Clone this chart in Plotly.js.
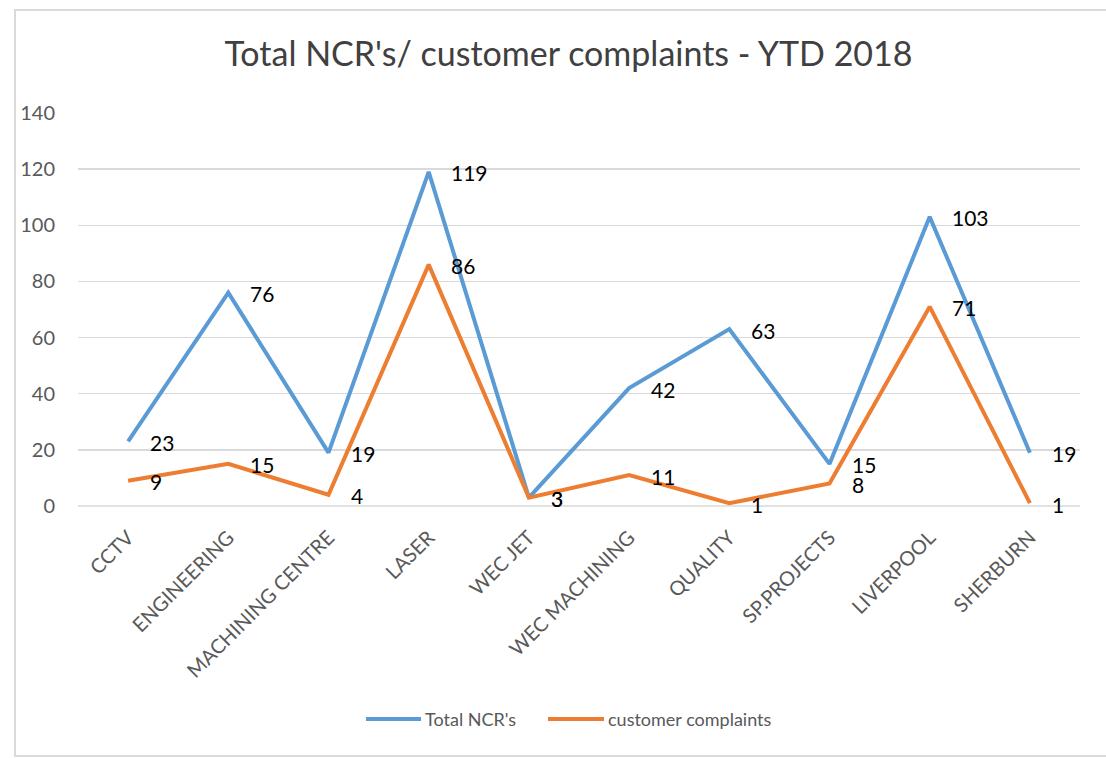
<!DOCTYPE html>
<html>
<head>
<meta charset="utf-8">
<script src="https://cdn.plot.ly/plotly-3.0.1.min.js"></script>
<style>
html,body{margin:0;padding:0;background:#fff;}
#chart{width:1106px;height:758px;}
</style>
</head>
<body>
<div id="chart"></div>
<script>
const categories = ["CCTV","ENGINEERING","MACHINING CENTRE","LASER","WEC JET","WEC MACHINING","QUALITY","SP.PROJECTS","LIVERPOOL","SHERBURN"];
const totalNCRs = [23, 76, 19, 119, 3, 42, 63, 15, 103, 19];
const customerComplaints = [9, 15, 4, 86, 3, 11, 1, 8, 71, 1];
const seriesNames = ["Total NCR's", "customer complaints"];
const seriesColors = ["#5B9BD5", "#ED7D31"];
const yTicks = [0, 20, 40, 60, 80, 100, 120, 140];

const FONT = "Lato, Carlito, 'Open Sans', sans-serif";

// plot area in pixels (for paper-coordinate conversion of decorations)
const PL = 78, PR = 1080, PT = 113, PB = 506;
const px = v => (v - PL) / (PR - PL);
const py = v => (PB - v) / (PB - PT);

function series(name, values, color) {
  return {
    type: "scatter",
    mode: "lines",
    name: name,
    x: categories,
    y: values,
    line: {color: color, width: 4},
    cliponaxis: false,
    showlegend: false
  };
}

function labels(values) {
  return values.map((v, i) => ({
    x: categories[i],
    y: v,
    xref: "x",
    yref: "y",
    text: String(v),
    showarrow: false,
    xanchor: "left",
    yanchor: "middle",
    xshift: 20,
    yshift: -1,
    font: {family: FONT, size: 21, color: "#000000"}
  }));
}

const data = [
  series(seriesNames[0], totalNCRs, seriesColors[0]),
  series(seriesNames[1], customerComplaints, seriesColors[1])
];

// custom legend (longer line keys like the reference)
const legendKeys = [[366, 421], [548, 604]];
const legendY = 719;
const legendShapes = legendKeys.map((k, i) => ({
  type: "line", xref: "paper", yref: "paper",
  x0: px(k[0]), x1: px(k[1]), y0: py(legendY), y1: py(legendY),
  line: {color: seriesColors[i], width: 4}
}));
const legendTexts = legendKeys.map((k, i) => ({
  xref: "paper", yref: "paper",
  x: px(k[1] + 2), y: py(legendY),
  text: seriesNames[i],
  showarrow: false, xanchor: "left", yanchor: "middle",
  font: {family: FONT, size: 18, color: "#595959"}
}));

const layout = {
  width: 1106,
  height: 758,
  margin: {l: PL, r: 1106 - PR, t: PT, b: 758 - PB},
  paper_bgcolor: "#ffffff",
  plot_bgcolor: "#ffffff",
  font: {family: FONT, color: "#595959"},
  title: {
    text: "Total NCR's/ customer complaints - YTD 2018",
    font: {family: FONT, size: 34, color: "#404040"},
    x: 0.514, xanchor: "center",
    y: 0.928, yanchor: "middle"
  },
  xaxis: {
    type: "category",
    range: [-0.5, 9.5],
    tickangle: -45,
    tickfont: {family: FONT, size: 20, color: "#595959"},
    showgrid: false,
    zeroline: false,
    showline: false,
    ticks: "",
    ticklabelstandoff: 15,
    fixedrange: true
  },
  yaxis: {
    range: [0, 140],
    tickvals: yTicks,
    ticktext: yTicks.map(String),
    tickfont: {family: FONT, size: 20, color: "#595959"},
    showgrid: true,
    gridcolor: "#D9D9D9",
    gridwidth: 1.3,
    zeroline: false,
    showline: false,
    ticks: "",
    ticklabelstandoff: 22,
    fixedrange: true
  },
  showlegend: false,
  annotations: labels(totalNCRs).concat(labels(customerComplaints)).concat(legendTexts),
  shapes: [
    {type: "line", xref: "paper", yref: "paper", x0: 0, x1: 1, y0: 0, y1: 0, line: {color: "#D9D9D9", width: 1.3}, layer: "below"},
    {type: "rect", xref: "paper", yref: "paper",
     x0: px(15), x1: px(1112),
     y0: py(756), y1: py(10),
     line: {color: "#D9D9D9", width: 2}, fillcolor: "rgba(0,0,0,0)", layer: "below"}
  ].concat(legendShapes)
};

Plotly.newPlot("chart", data, layout, {displayModeBar: false, staticPlot: true});
</script>
</body>
</html>
